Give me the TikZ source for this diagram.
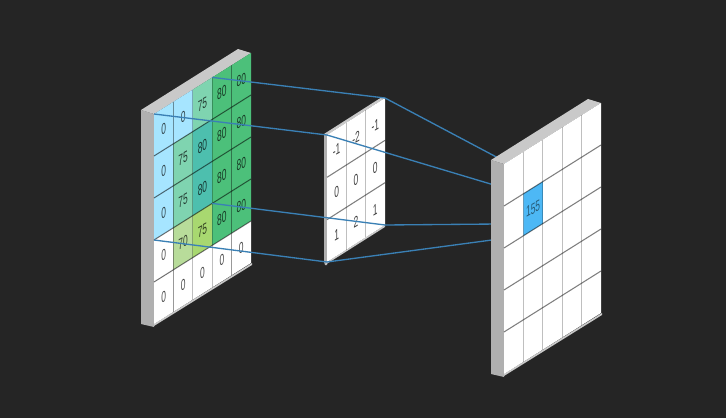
\documentclass[tikz,border=0pt]{standalone}
\usepackage{fontspec}
\setmainfont{Liberation Sans}
\definecolor{bgdark}{HTML}{252525}
\definecolor{slabside}{HTML}{B0B0B0}
\definecolor{slabtop}{HTML}{C9C9C9}
\definecolor{linkblue}{HTML}{3A80B5}
\definecolor{iceblue}{HTML}{A6E5FF}
\definecolor{mint}{HTML}{7FD4B0}
\definecolor{teal}{HTML}{4DBFAE}
\definecolor{leaf}{HTML}{4CC07A}
\definecolor{pale}{HTML}{B8DC9A}
\definecolor{lime}{HTML}{A8D870}
\definecolor{hitblue}{HTML}{4DB8F5}
\newcommand{\slabbody}{%
  \fill[slabside] (141,110) -- (154,114) -- (154,327) -- (141,324) -- cycle;
  \fill[slabtop] (141,110) -- (238,49) -- (251,53) -- (154,114) -- cycle;
  \fill[slabtop] (154,326) -- (252,265) -- (252,263) -- (154,324) -- cycle;
}
\begin{document}
\begin{tikzpicture}[
  x=0.75pt,y=-0.75pt,
  cellnum/.style={font=\fontsize{11.5}{13}\selectfont,inner sep=0pt,yslant=0.55,xscale=0.55},
  rowline/.style={black,opacity=0.5,line width=0.8pt},
  colline/.style={black,opacity=0.25,line width=1pt},
  link/.style={draw=linkblue,line width=1pt}
]
\fill[bgdark] (0,0) rectangle (726,418);
% source image
\slabbody
\begin{scope}[shift={(154,114)},x={(14.55pt,9.15pt)},y={(0pt,-31.5pt)}]
  \foreach \rowlist [count=\r from 0] in {
    {0/iceblue,0/iceblue,75/mint,80/leaf,80/leaf},
    {0/iceblue,75/mint,80/teal,80/leaf,80/leaf},
    {0/iceblue,75/mint,80/teal,80/leaf,80/leaf},
    {0/white,70/pale,75/lime,80/leaf,80/leaf},
    {0/white,0/white,0/white,0/white,0/white}} {
    \foreach \val/\cellc [count=\c from 0] in \rowlist {
      \fill[\cellc] (\c,\r) -- ++(1,0) -- ++(0,1) -- ++(-1,0) -- cycle;
      \node[cellnum,text=\cellc!30!black] (src-\r-\c) at (\c+0.5,\r+0.5) {\val};
    }
  }
  \foreach \k in {1,...,4} {
    \draw[colline] (\k,0) -- (\k,5);
    \draw[rowline] (0,\k) -- (5,\k);
  }
  \coordinate (srcTL) at (0,0);
  \coordinate (srcTR) at (3,0);
  \coordinate (srcBL) at (0,3);
  \coordinate (srcBR) at (3,3);
\end{scope}
% kernel
\fill[slabside] (324,134) -- (327,135) -- (327,265) -- (325,265) -- (324,262) -- cycle;
\fill[slabtop] (324,134) -- (382,97) -- (385,98) -- (327,135) -- cycle;
\fill[slabtop] (325,265) -- (385,227) -- (385,225) -- (327,262) -- cycle;
\begin{scope}[shift={(327,135)},x={(14.5pt,9.25pt)},y={(0pt,-31.75pt)}]
  \fill[white] (0,0) -- (3,0) -- (3,3) -- (0,3) -- cycle;
  \foreach \rowlist [count=\r from 0] in {{-1,-2,-1},{0,0,0},{1,2,1}} {
    \foreach \val [count=\c from 0] in \rowlist {
      \node[cellnum,text=black!75] (ker-\r-\c) at (\c+0.5,\r+0.5) {\val};
    }
  }
  \foreach \k in {1,2} {
    \draw[colline] (\k,0) -- (\k,3);
    \draw[rowline] (0,\k) -- (3,\k);
  }
  \coordinate (kerTL) at (0,0);
  \coordinate (kerTR) at (3,0);
  \coordinate (kerBL) at (0,3);
  \coordinate (kerBR) at (3,3);
\end{scope}
% the links, output panel goes over them
\coordinate (dstTL) at (523.4,193.8);
\coordinate (dstTR) at (542.8,181.6);
\coordinate (dstBL) at (523.4,235.8);
\coordinate (dstBR) at (542.8,223.6);
\draw[link] (srcTR) -- (kerTR);
\draw[link] (srcTL) -- (kerTL);
\draw[link] (srcBR) -- (kerBR);
\draw[link] (srcBL) -- (kerBL);
\draw[link] (kerTR) -- (dstTR);
\draw[link] (kerTL) -- (dstTL);
\draw[link] (kerBR) -- (dstBR);
\draw[link] (kerBL) -- (dstBL);
% output
\begin{scope}[shift={(350,50)}]
  \slabbody
\end{scope}
\begin{scope}[shift={(504,164)},x={(14.55pt,9.15pt)},y={(0pt,-31.5pt)}]
  \fill[white] (0,0) -- (5,0) -- (5,5) -- (0,5) -- cycle;
  \fill[hitblue] (1,1) -- (2,1) -- (2,2) -- (1,2) -- cycle;
  \node[cellnum,text=hitblue!50!black] (out-1-1) at (1.5,1.5) {155};
  \foreach \k in {1,...,4} {
    \draw[colline] (\k,0) -- (\k,5);
    \draw[rowline] (0,\k) -- (5,\k);
  }
\end{scope}
\end{tikzpicture}
\end{document}
